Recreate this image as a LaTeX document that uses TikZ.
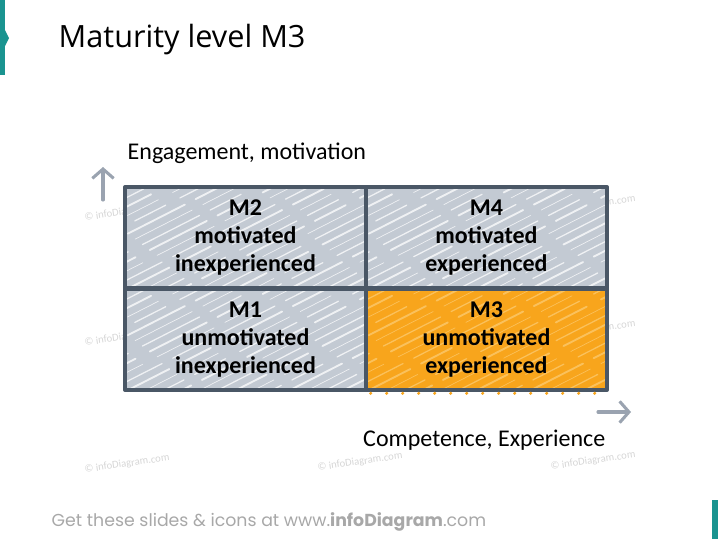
\documentclass[tikz,border=0pt]{standalone}
\usepackage{fontspec}
\setmainfont{Carlito}
\newfontfamily\titlefont{Open Sans}
\newfontfamily\footfont{Poppins}
\usetikzlibrary{arrows.meta}
\usetikzlibrary{positioning, calc}

\definecolor{teal}{HTML}{1A9490}
\definecolor{gridline}{HTML}{4A5766}
\definecolor{cellgray}{HTML}{C3CAD3}
\definecolor{cellorange}{HTML}{F8A51C}
\definecolor{hatchorange}{HTML}{FCCB72}
\definecolor{axisgray}{HTML}{9AA3B0}
\definecolor{footgray}{HTML}{A8A8A8}
\definecolor{markgray}{HTML}{D6D6D6}

\begin{document}
\begin{tikzpicture}[x=0.75pt,y=-0.75pt,
    cell/.style={draw=gridline, line width=3pt, line join=round,
      minimum width=180.75pt, minimum height=76.1pt, inner sep=0pt,
      align=center, font=\bfseries\fontsize{18}{21}\selectfont},
    hatch/.style={path picture={
      \foreach \k in {0,...,24}{
        \pgfmathsetmacro\lw{0.5+0.45*mod(\k,3)}
        \pgfmathsetmacro\ph{9*mod(\k,5)}
        \draw[#1, line width=\lw pt, opacity=0.75, line cap=round,
          dash pattern=on 48pt off 9pt on 26pt off 12pt, dash phase=\ph pt]
          ([xshift=\k*13.5pt-150pt, yshift=-2pt]path picture bounding box.south west) -- ++(27:210pt);}}},
    axis/.style={draw=axisgray, line width=2.3pt, line cap=round,
      -{Straight Barb[length=7pt, width=16pt, line width=2.3pt]}},
    watermark/.style={text=markgray, font=\fontsize{8}{9}\selectfont, rotate=8}]
  \useasboundingbox (0,0) rectangle (718,539);

  % accents of the slide
  \fill[teal] (0,0) rectangle (5,75);
  \fill[teal] (5,30) -- (9,38) -- (5,46) -- cycle;
  \fill[teal] (712,500) rectangle (718,539);

  % title
  \node[anchor=west, font=\titlefont\fontsize{23}{26}\selectfont] (title) at (54,40) {Maturity level M3};

  % watermarks behind the grid
  \foreach \wx/\wy in {127/212, 593/205, 127/337, 593/330, 127/464, 360/462, 593/461}
    \node[watermark] at (\wx,\wy) {\textcopyright{} infoDiagram.com};

  % the four quadrants
  \node[cell, fill=cellgray, hatch=white] (m2) at (245.5,237.75) {M2\\motivated\\inexperienced};
  \node[cell, fill=cellgray, hatch=white] (m4) at (486.5,237.75) {M4\\motivated\\experienced};
  \node[cell, fill=cellgray, hatch=white] (m1) at (245.5,339.25) {M1\\unmotivated\\inexperienced};
  \node[cell, fill=cellorange, hatch=hatchorange] (m3) at (486.5,339.25) {M3\\unmotivated\\experienced};

  % sketchy orange dots under M3
  \draw[cellorange, line width=2.5pt, line cap=round, dash pattern=on 0pt off 12pt]
    ([yshift=-1pt]m3.south west) ++(5pt,0) -- ([yshift=-1pt]m3.south east);

  % axes
  \coordinate (up0) at (103,200);
  \coordinate (up1) at (103,167);
  \coordinate (rt0) at (598,412);
  \coordinate (rt1) at (631,412);
  \draw[axis] (up0) -- (up1);
  \draw[axis] (rt0) -- (rt1);

  \node[anchor=west, font=\fontsize{18}{21}\selectfont] (yl) at (123,153) {Engagement, motivation};
  \node[anchor=east, font=\fontsize{18}{21}\selectfont] (xl) at (610,440) {Competence, Experience};

  % footer
  \node[anchor=west, text=footgray, font=\footfont\fontsize{13}{15}\selectfont] (foot) at (47,522)
    {Get these slides \& icons at www.\textbf{infoDiagram}.com};
\end{tikzpicture}
\end{document}
